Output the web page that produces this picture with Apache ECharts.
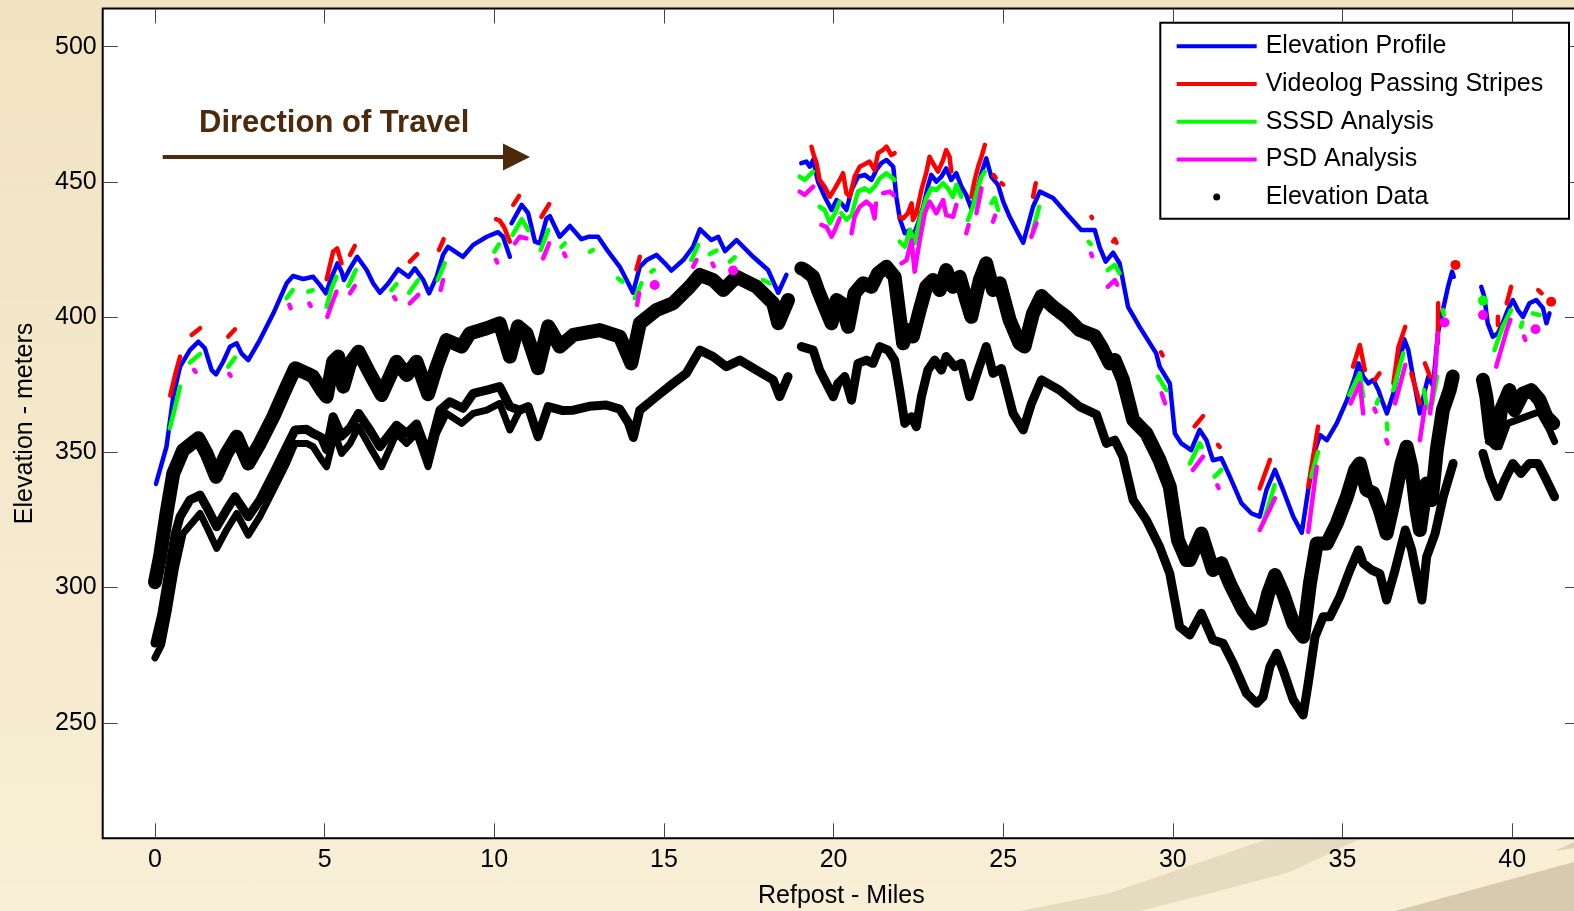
<!DOCTYPE html>
<html><head><meta charset="utf-8">
<script src="https://cdn.jsdelivr.net/npm/echarts@6/dist/echarts.min.js"></script>
<style>
html,body{margin:0;padding:0;}
body{width:1574px;height:911px;overflow:hidden;background:linear-gradient(180deg,#f1e3c1 0%,#f5e9cd 55%,#f8efd6 100%);}
#chart{width:1574px;height:911px;}
</style></head><body><div id="chart"></div>
<script>
// ---------- tick labels ----------
const xTicks = [0, 5, 10, 15, 20, 25, 30, 35, 40];
const yTicks = [250, 300, 350, 400, 450, 500];

// ---------- Elevation Profile (blue) [mile, metres]; null = gap ----------
const elevationProfile = [
[0.03,338.3],[0.34,352.1],[0.54,370.6],[0.74,381.7],[1.03,387.8],[1.28,390.9],[1.47,388.5],[1.67,380.4],[1.80,378.8],[2.01,383.5],[2.21,389.0],[2.41,390.3],[2.55,386.6],[2.75,384.1],[3.09,391.5],[3.49,401.4],[3.88,412.5],[4.07,415.2],[4.37,414.1],[4.66,414.9],[4.86,411.9],[5.04,408.8],[5.21,414.9],[5.38,419.9],[5.50,416.8],[5.57,413.7],[5.75,418.0],[5.96,422.3],[6.24,417.4],[6.43,412.5],[6.63,409.0],[6.88,412.5],[7.17,417.7],[7.47,414.9],[7.66,418.0],[7.91,413.7],[8.08,408.8],[8.30,414.9],[8.49,423.0],[8.64,426.0],[9.08,422.3],[9.38,426.7],[9.78,429.7],[10.11,431.4],[10.26,429.7],[10.46,422.3], null,
[10.51,434.7],[10.81,441.5],[11.00,438.4],[11.20,427.9],[11.34,427.3],[11.54,436.5],[11.64,437.3],[11.93,429.7],[12.23,433.7],[12.57,428.8],[12.77,429.7],[13.06,429.7],[13.36,424.2],[13.70,418.6],[13.95,412.5],[14.09,409.0],[14.29,418.6],[14.49,421.1],[14.78,423.0],[15.03,419.9],[15.22,417.2],[15.57,421.1],[15.86,426.0],[16.06,432.5],[16.40,428.5],[16.60,429.7],[16.80,424.4],[17.14,428.5],[17.63,422.3],[18.07,417.4],[18.37,409.0],[18.61,415.6], null,
[19.05,456.9],[19.20,457.5],[19.30,455.6],[19.40,458.1],[19.54,450.1],[19.74,444.5],[19.94,439.6],[20.09,443.3],[20.23,442.1],[20.38,439.6],[20.53,447.0],[20.72,451.9],[20.92,452.6],[21.12,450.7],[21.26,454.4],[21.41,456.9],[21.56,458.1],[21.76,455.6],[21.85,444.5],[21.95,436.5],[22.10,431.0],[22.25,432.2],[22.34,429.7],[22.49,434.7],[22.64,440.8],[22.78,448.2],[22.88,452.6],[23.03,450.1],[23.18,451.9],[23.32,455.0],[23.47,450.7],[23.62,453.2],[23.77,448.2],[23.91,445.2],[24.06,440.2],[24.21,445.8],[24.36,453.2],[24.50,458.7],[24.65,451.9],[24.85,448.9],[25.00,442.7],[25.19,437.1],[25.39,432.2],[25.59,427.5],[25.88,440.8],[26.08,446.4],[26.47,444.0],[26.86,438.4],[27.30,432.2],[27.70,432.2],[27.84,426.0],[28.02,420.5],[28.24,423.8],[28.43,419.9],[28.68,403.8],[29.02,396.4],[29.51,386.6],[29.61,381.7],[29.91,375.5],[30.06,357.0],[30.25,353.3],[30.54,350.8],[30.79,358.3],[30.99,354.5],[31.18,347.1],[31.43,347.8],[31.68,341.0],[32.02,331.2],[32.32,327.4],[32.56,326.2],[32.76,336.1],[33.01,343.5],[33.25,336.1],[33.55,326.2],[33.80,320.3],[33.99,336.1],[34.19,350.8],[34.34,356.4],[34.54,354.5],[34.83,360.7],[35.13,369.3],[35.37,378.0],[35.47,382.9],[35.61,378.0],[35.76,375.5],[35.91,376.8],[36.06,373.0],[36.16,369.3],[36.31,364.4],[36.50,371.8],[36.70,384.1],[36.82,391.8],[36.94,387.8],[37.08,378.0],[37.28,364.4],[37.43,373.0],[37.53,378.0],[37.67,374.5],[37.81,394.0],[37.96,402.6],[38.11,411.2],[38.23,416.8],[38.28,414.9], null,
[39.09,411.2],[39.18,407.5],[39.28,397.7],[39.43,392.8],[39.58,394.0],[39.72,397.7],[39.87,402.6],[40.02,406.3],[40.17,402.6],[40.32,400.1],[40.51,405.1],[40.71,406.3],[40.91,403.3],[41.01,397.7],[41.10,401.4]
];

// ---------- Videolog Passing Stripes (red) ----------
const videologStripes = [
[0.45,371.0],[0.60,379.0],[0.74,385.4], null,
[1.08,393.4],[1.33,395.9], null,
[2.16,392.8],[2.36,395.5], null,
[5.06,414.0],[5.25,424.2],[5.37,425.4],[5.50,419.9], null,
[5.75,423.0],[5.89,426.3], null,
[7.51,420.5],[7.73,423.3], null,
[8.37,424.8],[8.51,428.8], null,
[10.05,436.2],[10.16,435.7],[10.30,433.0],[10.46,427.9], null,
[10.56,441.5],[10.73,444.8], null,
[11.39,437.1],[11.62,441.8], null,
[14.19,417.7],[14.29,422.3], null,
[19.35,463.0],[19.40,460.6],[19.50,456.9],[19.59,450.7],[19.74,448.2],[19.89,444.5],[20.04,447.6],[20.18,450.7],[20.28,453.2],[20.38,445.8],[20.48,444.5],[20.62,451.9],[20.77,455.6],[20.97,456.9],[21.06,457.5],[21.21,454.4],[21.31,460.6],[21.46,461.8],[21.56,463.0],[21.70,459.9],[21.80,460.6], null,
[21.95,437.1],[22.05,436.5],[22.19,438.4],[22.30,442.1],[22.34,435.9],[22.44,438.4],[22.59,447.0],[22.73,453.2],[22.83,459.3],[22.93,456.9],[23.08,453.8],[23.23,458.1],[23.32,461.8],[23.42,459.3],[23.47,453.8], null,
[24.06,444.5],[24.16,450.7],[24.26,455.6],[24.36,459.3],[24.46,463.7], null,
[24.72,452.5],[24.78,451.5], null,
[24.95,449.5],[25.00,449.0], null,
[25.88,444.5],[25.96,449.5], null,
[27.60,437.1],[27.62,436.6], null,
[28.24,428.0],[28.29,428.8],[28.34,427.5], null,
[29.65,387.0],[29.70,385.8], null,
[30.64,359.6],[30.89,363.4], null,
[31.33,352.8],[31.38,352.0], null,
[32.56,336.7],[32.86,347.2], null,
[33.99,337.3],[34.28,359.5], null,
[35.31,381.7],[35.51,389.7],[35.66,380.4], null,
[35.96,376.8],[36.09,379.2], null,
[36.50,375.5],[36.65,389.0],[36.85,396.4], null,
[37.03,379.2],[37.28,368.1], null,
[37.43,382.9],[37.58,378.0], null,
[37.81,390.3],[37.82,405.1], null,
[38.33,419.3], null,
[39.58,397.1],[39.58,400.1], null,
[39.84,405.1],[39.97,411.2], null,
[40.77,410.0],[40.87,408.8], null,
[41.15,405.7]
];

// ---------- SSSD Analysis (green) ----------
const sssdAnalysis = [
[0.44,358.9],[0.60,367.0],[0.74,374.3], null,
[1.03,383.2],[1.33,386.4], null,
[2.16,381.7],[2.36,385.0], null,
[3.88,407.0],[4.06,410.0], null,
[4.52,409.4],[4.65,410.0], null,
[5.06,403.8],[5.20,410.5],[5.35,414.9], null,
[5.70,411.5],[5.92,417.4], null,
[6.97,410.0],[7.12,412.2], null,
[7.49,409.0],[7.76,413.7], null,
[8.33,413.7],[8.54,419.9], null,
[10.00,424.2],[10.14,426.9], null,
[10.54,430.4],[10.81,436.2],[11.00,432.2], null,
[11.37,424.8],[11.59,432.2], null,
[11.98,426.0],[12.08,427.3], null,
[12.82,424.2],[12.91,424.8], null,
[13.65,414.3],[13.78,413.1], null,
[14.14,407.0],[14.34,412.5], null,
[14.63,416.8],[14.70,417.4], null,
[15.81,421.1],[16.01,426.7], null,
[16.35,423.3],[16.55,424.6], null,
[16.94,420.5],[17.09,422.1], null,
[17.92,413.7],[18.12,412.5], null,
[19.00,451.9],[19.15,450.7],[19.30,452.6],[19.40,453.8], null,
[19.59,440.8],[19.74,439.6],[19.89,434.7],[20.04,438.4],[20.18,442.7], null,
[20.23,438.4],[20.38,436.0],[20.53,437.7],[20.72,446.4],[20.92,447.6],[21.06,446.4],[21.21,448.2],[21.36,451.3],[21.56,453.2],[21.80,450.7], null,
[21.95,427.9],[22.10,426.0],[22.25,432.2],[22.39,427.3],[22.54,435.9],[22.73,443.9],[22.88,447.6],[23.03,447.0],[23.23,449.5],[23.37,447.6],[23.52,444.5],[23.62,448.9],[23.77,444.5], null,
[23.96,435.9],[24.11,440.8],[24.21,445.8],[24.36,451.9],[24.46,453.8], null,
[24.65,442.1],[24.75,444.0],[24.85,439.6], null,
[25.88,432.2],[26.06,440.8], null,
[27.52,427.8],[27.58,427.0], null,
[28.08,417.4],[28.29,419.3],[28.43,416.2], null,
[29.56,378.0],[29.81,373.0], null,
[30.50,345.9],[30.79,353.3],[30.85,352.0], null,
[31.23,341.0],[31.43,343.5], null,
[32.66,323.7],[33.00,337.9], null,
[34.08,341.0],[34.28,350.2], null,
[35.20,371.2],[35.51,379.2],[35.61,370.6], null,
[36.01,368.1],[36.05,369.5], null,
[36.31,360.7],[36.32,358.5], null,
[36.50,373.0],[36.79,386.6], null,
[37.40,373.0],[37.50,366.3], null,
[37.64,368.1],[37.79,378.0], null,
[37.96,402.6],[37.99,400.8], null,
[39.14,406.1], null,
[39.48,387.8],[39.72,396.4],[39.97,402.6], null,
[40.26,396.4],[40.30,398.0], null,
[40.61,401.4],[40.81,400.8]
];

// ---------- PSD Analysis (magenta) ----------
const psdAnalysis = [
[1.15,380.5],[1.20,379.8], null,
[2.19,379.0],[2.23,378.3], null,
[3.96,404.5],[4.00,403.3], null,
[4.55,405.0],[4.59,404.1], null,
[5.08,400.1],[5.20,404.5],[5.35,409.4], null,
[5.75,408.8],[5.89,411.5], null,
[7.05,407.4],[7.09,406.6], null,
[7.51,405.1],[7.76,408.2], null,
[8.42,410.0],[8.49,413.7], null,
[10.05,421.2],[10.09,420.2], null,
[10.61,427.3],[10.75,429.7],[10.95,429.1], null,
[11.44,421.7],[11.62,427.3], null,
[12.06,423.5],[12.10,422.5], null,
[14.21,404.5],[14.27,408.8], null,
[14.73,411.9], null,
[15.86,418.6],[15.96,421.1], null,
[16.43,419.8],[16.47,418.8], null,
[17.04,417.2], null,
[19.00,446.4],[19.15,445.2],[19.30,447.0],[19.40,448.2], null,
[19.64,434.1],[19.79,433.4],[19.94,429.7],[20.04,432.2],[20.18,436.5], null,
[20.53,431.0],[20.62,437.1],[20.77,440.8],[20.97,442.7],[21.12,441.0],[21.21,436.5],[21.25,442.0], null,
[21.46,445.8],[21.66,446.4],[21.78,445.0], null,
[22.00,419.9],[22.15,421.1],[22.30,428.5],[22.39,416.8],[22.54,428.5],[22.69,438.4],[22.83,442.7],[23.03,438.4],[23.23,443.3],[23.32,437.7],[23.52,437.1],[23.62,441.5], null,
[23.91,431.0],[23.98,434.0], null,
[24.21,438.4],[24.36,447.6], null,
[24.70,435.3],[24.76,437.5], null,
[25.83,429.7],[25.98,434.7], null,
[27.59,423.5],[27.62,422.5], null,
[28.08,411.2],[28.29,413.7],[28.36,412.0], null,
[29.67,371.8],[29.77,368.1], null,
[30.59,343.5],[30.89,348.4], null,
[31.31,337.8],[31.35,336.8], null,
[32.56,321.3],[33.01,333.0], null,
[33.99,320.6],[34.24,344.7], null,
[35.24,368.1],[35.51,375.5],[35.61,364.4], null,
[35.94,366.2],[35.98,365.0], null,
[36.29,354.5],[36.33,353.3], null,
[36.55,368.1],[36.85,382.3], null,
[37.28,354.5],[37.43,366.9], null,
[37.58,364.4],[37.73,379.2],[37.81,394.0], null,
[38.01,398.0], null,
[39.14,400.8], null,
[39.53,381.7],[39.84,395.2],[39.95,399.0], null,
[40.35,392.8],[40.39,391.6], null,
[40.69,395.5]
];

// ---------- Elevation Data (black) ----------
const elevDataUpper = [
[0.00,302.0],[0.15,311.4],[0.34,327.4],[0.54,342.2],[0.83,350.8],[1.28,355.2],[1.52,349.6],[1.80,341.0],[2.11,349.6],[2.41,355.8],[2.75,345.9],[3.09,353.3],[3.49,363.2],[3.88,374.3],[4.13,381.1],[4.47,379.2],[4.66,378.0],[4.91,373.0],[5.06,370.6],[5.25,383.5],[5.40,385.4],[5.55,374.3],[5.75,382.9],[6.00,387.2],[6.33,379.2],[6.68,371.2],[7.12,383.5],[7.42,378.6],[7.71,383.5],[8.05,371.5],[8.30,381.7],[8.59,391.5],[9.04,389.1],[9.28,394.0],[9.78,395.9],[10.16,397.7],[10.46,385.4],[10.70,396.6],[10.95,394.0],[11.29,381.1],[11.59,396.6],[11.69,394.6],[11.93,389.1],[12.33,393.4],[13.11,395.2],[13.70,392.8],[14.04,382.9],[14.29,397.7],[14.78,402.6],[15.27,405.1],[15.76,411.2],[16.06,415.6],[16.45,413.7],[16.75,410.0],[17.14,414.9],[17.73,411.2],[18.22,405.1],[18.37,397.7],[18.66,406.3], null,
[19.05,418.0],[19.15,417.4],[19.40,414.9],[19.54,410.0],[19.74,403.8],[19.94,397.7],[20.09,406.3],[20.23,405.1],[20.43,396.4],[20.62,408.8],[20.87,412.5],[21.12,411.2],[21.31,416.2],[21.56,418.6],[21.80,414.9],[21.95,400.1],[22.05,390.3],[22.19,395.2],[22.34,392.8],[22.54,402.6],[22.73,411.2],[22.93,413.7],[23.13,410.0],[23.32,417.4],[23.52,411.2],[23.72,414.9],[23.91,406.3],[24.06,400.1],[24.31,413.7],[24.50,419.9],[24.70,410.0],[24.90,412.5],[25.19,398.9],[25.48,390.3],[25.63,389.1],[25.88,401.4],[26.13,407.8],[26.47,403.8],[26.86,400.1],[27.25,395.2],[27.70,393.0],[27.89,389.1],[28.14,382.9],[28.29,384.1],[28.53,376.8],[28.83,362.0],[29.22,357.0],[29.61,347.1],[29.91,337.3],[30.15,317.6],[30.40,310.2],[30.50,310.2],[30.84,320.0],[31.18,306.5],[31.43,309.0],[31.68,301.5],[32.07,291.7],[32.36,286.8],[32.61,288.0],[32.81,297.8],[33.01,304.6],[33.25,297.8],[33.55,286.8],[33.84,281.8],[34.04,301.5],[34.24,316.3],[34.54,316.3],[34.83,323.7],[35.13,333.6],[35.37,343.5],[35.51,345.9],[35.71,336.1],[35.91,334.9],[36.10,328.7],[36.30,320.0],[36.50,331.1],[36.74,345.9],[36.89,352.1],[37.03,344.7],[37.18,328.7],[37.28,321.3],[37.48,338.5],[37.63,332.4],[37.78,351.0],[37.96,365.7],[38.16,373.0],[38.25,378.0], null,
[39.14,376.8],[39.24,370.6],[39.38,355.8],[39.53,353.3],[39.67,365.6],[39.92,373.0],[40.07,365.6],[40.32,371.8],[40.56,373.0],[40.81,369.3],[41.01,363.2],[41.21,360.7]
];
const elevDataUpperB = [
[39.30,354.0],[39.62,352.1],[39.87,360.7],[40.41,363.2],[40.80,365.0],[41.10,358.3],[41.25,354.0]
];
const elevDataLowerA = [
[0.00,279.5],[0.20,290.0],[0.40,305.0],[0.60,320.0],[0.74,326.2],[1.03,332.4],[1.33,334.2],[1.57,328.7],[1.82,322.5],[2.11,328.7],[2.36,333.6],[2.75,326.2],[3.09,332.4],[3.49,342.2],[3.88,352.1],[4.13,358.3],[4.47,358.5],[4.66,357.0],[4.91,355.5],[5.06,351.0],[5.25,363.2],[5.50,356.0],[5.75,359.0],[6.00,364.4],[6.33,358.3],[6.63,352.1],[7.12,360.0],[7.42,357.0],[7.71,360.5],[8.05,349.0],[8.40,365.6],[8.69,368.7],[9.08,366.3],[9.38,371.8],[9.78,373.0],[10.16,374.3],[10.46,366.9],[10.75,365.6],[11.00,366.9],[11.29,355.8],[11.59,366.9],[12.00,365.5],[12.33,365.6],[12.80,367.0],[13.30,367.5],[13.70,366.0],[13.95,361.0],[14.10,355.5],[14.29,365.6],[14.78,370.6],[15.27,375.5],[15.66,379.2],[16.06,387.8],[16.45,385.4],[16.84,381.7],[17.24,384.1],[17.73,380.4],[18.22,376.8],[18.41,370.6],[18.66,378.0], null,
[19.05,389.1],[19.40,387.8],[19.59,380.4],[19.79,375.5],[19.99,370.6],[20.13,375.5],[20.33,378.0],[20.53,369.3],[20.72,382.9],[20.97,384.1],[21.16,382.9],[21.36,389.1],[21.61,387.8],[21.80,384.1],[21.95,373.0],[22.10,360.7],[22.30,363.2],[22.44,359.5],[22.59,370.6],[22.78,380.4],[22.98,384.1],[23.18,380.4],[23.32,385.4],[23.57,381.7],[23.77,382.9],[24.01,370.6],[24.26,380.4],[24.50,389.1],[24.70,379.2],[24.95,381.0],[25.29,364.4],[25.59,358.3],[25.83,368.0],[26.13,376.8],[26.66,373.0],[27.25,366.9],[27.75,364.0],[28.04,353.3],[28.29,354.5],[28.53,348.4],[28.83,332.4],[29.22,325.0],[29.61,315.1],[29.91,305.2],[30.20,285.5],[30.50,282.5],[30.84,290.5],[31.18,280.6],[31.48,279.4],[31.78,272.0],[32.17,260.9],[32.47,257.2],[32.66,259.6],[32.86,270.7],[33.06,275.7],[33.25,269.5],[33.55,258.4],[33.84,252.9],[33.99,264.6],[34.19,281.8],[34.43,289.2],[34.63,289.2],[34.92,296.6],[35.22,306.5],[35.47,313.9],[35.61,309.0],[35.86,306.5],[36.10,305.2],[36.30,295.4],[36.55,306.5],[36.85,321.3],[37.04,313.9],[37.24,301.5],[37.34,295.4],[37.48,311.4],[37.73,320.0],[37.97,333.6],[38.26,345.9], null,
[39.14,349.6],[39.34,341.0],[39.58,333.6],[39.78,339.8],[40.02,345.9],[40.26,342.2],[40.51,345.9],[40.76,345.9],[41.01,339.8],[41.25,333.6]
];
const elevDataLowerB = [
[0.00,274.0],[0.20,279.0],[0.40,292.0],[0.60,307.0],[0.83,320.0],[1.33,327.4],[1.57,321.3],[1.82,314.5],[2.11,321.3],[2.41,327.4],[2.75,319.4],[3.09,326.2],[3.49,336.1],[3.88,345.9],[4.13,353.3],[4.47,353.3],[4.66,352.1],[4.91,347.2],[5.06,344.7],[5.30,357.0],[5.50,349.6],[5.75,353.3],[6.00,359.5],[6.33,352.1],[6.68,344.7],[7.12,357.0],[7.42,353.3],[7.71,357.0],[8.05,344.7],[8.30,357.0],[8.59,364.4],[9.04,360.7],[9.38,364.4],[9.78,365.6],[10.16,368.1],[10.46,358.3],[10.75,365.6]
];

// ---------- build ----------
const FONT = '"Liberation Sans", Arial, Helvetica, sans-serif';
function toData(arr){ return arr.map(p => p === null ? ['-','-'] : p); }
function isolatedSize(arr, big){
  return function(v, params){
    const i = params.dataIndex;
    return (arr[i] && !arr[i-1] && !arr[i+1]) ? big : 0;
  };
}
function colored(name, arr, color, width){
  return {
    name, type:'line', data: toData(arr), connectNulls:false, silent:true,
    showSymbol:true, symbol:'circle', symbolSize: isolatedSize(arr, 10),
    itemStyle:{color}, lineStyle:{color, width, cap:'round', join:'round'},
    emphasis:{disabled:true}, z:3
  };
}
function black(arr, width){
  return {
    name:'Elevation Data', type:'line', data: toData(arr), connectNulls:false, silent:true,
    showSymbol:false, itemStyle:{color:'#000'},
    lineStyle:{color:'#000', width, cap:'round', join:'round'},
    emphasis:{disabled:true}, z:2
  };
}
// legend icons (80 x 8 boxes): a bar for the lines, a centred dot for the data points
const ICON_BAR = 'path://M0,0 M80,8 M0,2 L80,2 L80,6 L0,6 Z';
const ICON_DOT = 'path://M0,0 M80,8 M36.5,4 A3.5,3.5 0 1 0 43.5,4 A3.5,3.5 0 1 0 36.5,4 Z';

const chart = echarts.init(document.getElementById('chart'), null, {renderer:'canvas'});
const axisTickStyle = {inside:true, length:15, lineStyle:{color:'#444', width:1}};
const noLine = {show:false, onZero:false};
chart.setOption({
  animation:false,
  backgroundColor:'transparent',
  grid:{left:102.7, right:-6, top:8.5, bottom:72.7, show:true, backgroundColor:'#fff', borderColor:'#000', borderWidth:2, containLabel:false, outerBoundsMode:'none'},
  xAxis:[
    {type:'value', min:-1.54, max:42, position:'bottom',
     axisLine:noLine, splitLine:{show:false},
     axisTick:Object.assign({customValues:xTicks}, axisTickStyle),
     axisLabel:{customValues:xTicks, fontSize:25, color:'#000', fontFamily:FONT, margin:9},
     name:'Refpost - Miles', nameLocation:'middle', nameGap:45,
     nameTextStyle:{fontSize:25, color:'#000', fontFamily:FONT}},
    {type:'value', min:-1.54, max:42, position:'top',
     axisLine:noLine, splitLine:{show:false},
     axisTick:Object.assign({customValues:xTicks}, axisTickStyle),
     axisLabel:{show:false}}
  ],
  yAxis:[
    {type:'value', min:207.3, max:514.1, position:'left',
     axisLine:noLine, splitLine:{show:false},
     axisTick:Object.assign({customValues:yTicks}, axisTickStyle),
     axisLabel:{customValues:yTicks, fontSize:25, color:'#000', fontFamily:FONT, margin:6},
     name:'Elevation - meters', nameLocation:'middle', nameGap:65, nameRotate:90,
     nameTextStyle:{fontSize:25, color:'#000', fontFamily:FONT}},
    {type:'value', min:207.3, max:514.1, position:'right',
     axisLine:noLine, splitLine:{show:false},
     axisTick:Object.assign({customValues:yTicks}, axisTickStyle),
     axisLabel:{show:false}}
  ],
  legend:{
    data:[
      {name:'Elevation Profile', icon:ICON_BAR},
      {name:'Videolog Passing Stripes', icon:ICON_BAR},
      {name:'SSSD Analysis', icon:ICON_BAR},
      {name:'PSD Analysis', icon:ICON_BAR},
      {name:'Elevation Data', icon:ICON_DOT}
    ],
    orient:'vertical', left:1176.7, top:31.3, itemWidth:80, itemHeight:8, itemGap:7.7,
    padding:0, selectedMode:false, z:30,
    textStyle:{fontSize:25, color:'#000', fontFamily:FONT, lineHeight:30, padding:[0,0,0,4]}
  },
  graphic:{elements:[
    {type:'polygon', z:-10, silent:true, shape:{points:[[1020,911],[1110,893],[1265,840],[1362,838],[1290,872],[1215,892],[1140,911]]}, style:{fill:'#e4dbc0'}},
    {type:'polygon', z:-10, silent:true, shape:{points:[[1395,911],[1574,862],[1574,911]]}, style:{fill:'#d6cbb0'}},
    {type:'polygon', z:-10, silent:true, shape:{points:[[1555,851],[1574,842],[1574,848]]}, style:{fill:'#ddd2b7'}},
    {type:'rect', z:25, silent:true, shape:{x:1160.3, y:22.7, width:408.7, height:196}, style:{fill:'#fff', stroke:'#000', lineWidth:2}},
    {type:'text', z:26, silent:true, style:{x:199, y:123, text:'Direction of Travel', fill:'#4d2a0b', fontSize:31, fontWeight:'bold', fontFamily:FONT, align:'left', verticalAlign:'middle'}},
    {type:'line', z:26, silent:true, shape:{x1:162.7, y1:157, x2:506, y2:157}, style:{stroke:'#4d2a0b', lineWidth:4}},
    {type:'polygon', z:26, silent:true, shape:{points:[[503,143.5],[530,157],[503,170.5]]}, style:{fill:'#4d2a0b'}}
  ]},
  series:[
    colored('Elevation Profile', elevationProfile, '#0000ff', 4.5),
    colored('Videolog Passing Stripes', videologStripes, '#ff0000', 4.5),
    colored('SSSD Analysis', sssdAnalysis, '#00ff00', 4.5),
    colored('PSD Analysis', psdAnalysis, '#ff00ff', 4.5),
    black(elevDataUpper, 14),
    black(elevDataUpperB, 7),
    black(elevDataLowerA, 9),
    black(elevDataLowerB, 7)
  ]
});
</script></body></html>
